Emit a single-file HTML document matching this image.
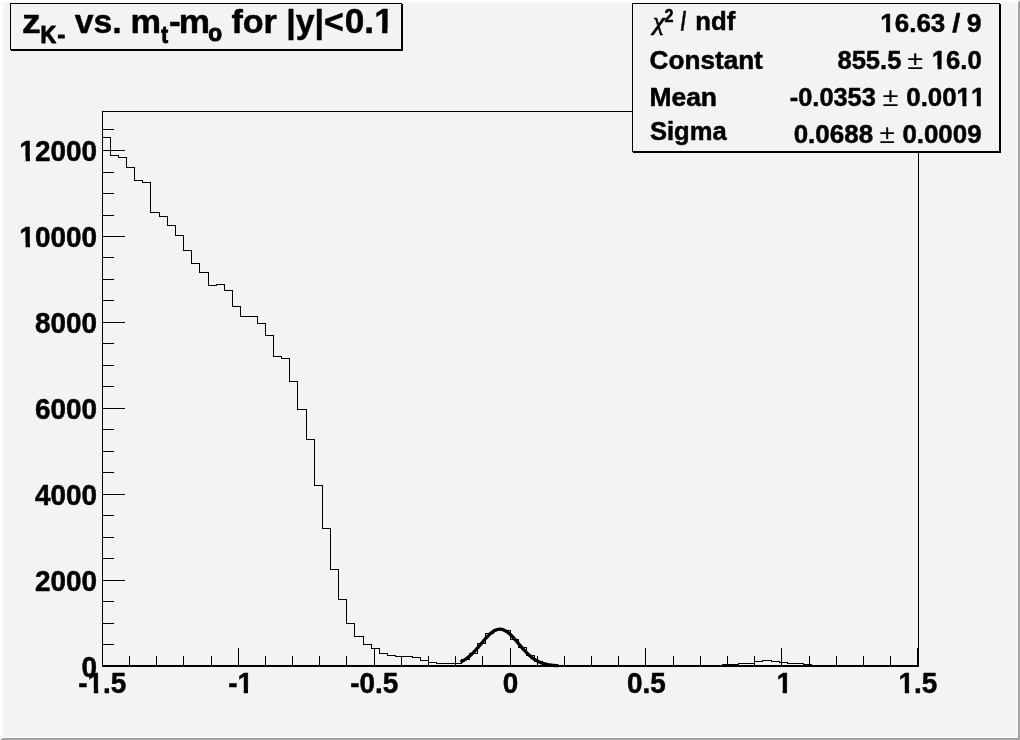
<!DOCTYPE html><html><head><meta charset="utf-8"><title>zK- vs. mt-mo</title>
<style>html,body{margin:0;padding:0;background:#f3f3f3;}svg{display:block;position:absolute;left:0;top:0}text{font-family:"Liberation Sans",Arial,Helvetica,sans-serif;font-weight:bold;fill:#000;font-kerning:none}</style></head><body>
<svg width="1020" height="740" viewBox="0 0 1020 740">
<rect x="0" y="0" width="1020" height="740" fill="#f3f3f3"/>
<g shape-rendering="crispEdges">
<rect x="0" y="0" width="1020" height="2" fill="#ffffff"/><rect x="0" y="0" width="2" height="740" fill="#ffffff"/>
<rect x="2" y="2" width="1" height="735" fill="#fafafa"/><rect x="3" y="2" width="2" height="735" fill="#f7f7f7"/><rect x="2" y="2" width="1015" height="1" fill="#f8f8f8"/>
<rect x="1017" y="2" width="1" height="736" fill="#ffffff"/><rect x="2" y="737" width="1016" height="1" fill="#ffffff"/>
<rect x="1018" y="2" width="1" height="738" fill="#a2a2a2"/><rect x="1019" y="1" width="1" height="739" fill="#a2a2a2"/><rect x="2" y="738" width="1018" height="1" fill="#a2a2a2"/><rect x="1" y="739" width="1019" height="1" fill="#a2a2a2"/>
<g fill="none" stroke="#000" stroke-width="1">
<rect x="102.5" y="111.5" width="816" height="555"/>
</g>
<rect x="102" y="665" width="817" height="2" fill="#000"/>
<g fill="#000"><rect x="102" y="648" width="1" height="18"/><rect x="129" y="656" width="1" height="10"/><rect x="156" y="656" width="1" height="10"/><rect x="183" y="656" width="1" height="10"/><rect x="211" y="656" width="1" height="10"/><rect x="238" y="648" width="1" height="18"/><rect x="265" y="656" width="1" height="10"/><rect x="292" y="656" width="1" height="10"/><rect x="319" y="656" width="1" height="10"/><rect x="346" y="656" width="1" height="10"/><rect x="374" y="648" width="1" height="18"/><rect x="401" y="656" width="1" height="10"/><rect x="428" y="656" width="1" height="10"/><rect x="455" y="656" width="1" height="10"/><rect x="482" y="656" width="1" height="10"/><rect x="510" y="648" width="1" height="18"/><rect x="537" y="656" width="1" height="10"/><rect x="564" y="656" width="1" height="10"/><rect x="591" y="656" width="1" height="10"/><rect x="618" y="656" width="1" height="10"/><rect x="645" y="648" width="1" height="18"/><rect x="673" y="656" width="1" height="10"/><rect x="700" y="656" width="1" height="10"/><rect x="727" y="656" width="1" height="10"/><rect x="754" y="656" width="1" height="10"/><rect x="781" y="648" width="1" height="18"/><rect x="809" y="656" width="1" height="10"/><rect x="836" y="656" width="1" height="10"/><rect x="863" y="656" width="1" height="10"/><rect x="890" y="656" width="1" height="10"/><rect x="917" y="648" width="1" height="18"/><rect x="102" y="666" width="23" height="1"/><rect x="102" y="644" width="12" height="1"/><rect x="102" y="623" width="12" height="1"/><rect x="102" y="601" width="12" height="1"/><rect x="102" y="580" width="23" height="1"/><rect x="102" y="558" width="12" height="1"/><rect x="102" y="537" width="12" height="1"/><rect x="102" y="515" width="12" height="1"/><rect x="102" y="494" width="23" height="1"/><rect x="102" y="472" width="12" height="1"/><rect x="102" y="451" width="12" height="1"/><rect x="102" y="429" width="12" height="1"/><rect x="102" y="408" width="23" height="1"/><rect x="102" y="386" width="12" height="1"/><rect x="102" y="365" width="12" height="1"/><rect x="102" y="343" width="12" height="1"/><rect x="102" y="322" width="23" height="1"/><rect x="102" y="300" width="12" height="1"/><rect x="102" y="279" width="12" height="1"/><rect x="102" y="257" width="12" height="1"/><rect x="102" y="236" width="23" height="1"/><rect x="102" y="215" width="12" height="1"/><rect x="102" y="193" width="12" height="1"/><rect x="102" y="172" width="12" height="1"/><rect x="102" y="150" width="23" height="1"/><rect x="102" y="129" width="12" height="1"/></g>
<path d="M102 137 L102 137 L110 137 L110 155 L118 155 L118 157 L126 157 L126 167 L134 167 L134 180 L142 180 L142 182 L150 182 L150 212 L159 212 L159 216 L167 216 L167 225 L175 225 L175 235 L183 235 L183 250 L191 250 L191 263 L199 263 L199 272 L208 272 L208 285 L216 285 L216 284 L224 284 L224 290 L232 290 L232 306 L240 306 L240 316 L248 316 L248 316 L257 316 L257 323 L265 323 L265 335 L273 335 L273 356 L281 356 L281 358 L289 358 L289 381 L297 381 L297 409 L306 409 L306 439 L314 439 L314 485 L322 485 L322 528 L330 528 L330 569 L338 569 L338 599 L346 599 L346 623 L354 623 L354 636 L363 636 L363 644 L371 644 L371 648 L379 648 L379 653 L387 653 L387 655 L395 655 L395 656 L403 656 L403 656 L412 656 L412 657 L420 657 L420 660 L428 660 L428 662 L436 662 L436 663 L444 663 L444 663 L452 663 L452 663 L461 663 L461 659 L469 659 L469 653 L477 653 L477 643 L485 643 L485 633 L493 633 L493 629 L501 629 L501 630 L510 630 L510 639 L518 639 L518 647 L526 647 L526 655 L534 655 L534 661 L542 661 L542 664 L550 664 L550 665 L558 665 L558 665 L567 665 L567 665 L575 665 L575 665 L583 665 L583 665 L591 665 L591 665 L599 665 L599 665 L607 665 L607 665 L616 665 L616 665 L624 665 L624 665 L632 665 L632 665 L640 665 L640 665 L648 665 L648 665 L656 665 L656 665 L665 665 L665 665 L673 665 L673 665 L681 665 L681 665 L689 665 L689 665 L697 665 L697 665 L705 665 L705 665 L714 665 L714 665 L722 665 L722 664 L730 664 L730 664 L738 664 L738 663 L746 663 L746 663 L754 663 L754 661 L762 661 L762 660 L771 660 L771 661 L779 661 L779 662 L787 662 L787 663 L795 663 L795 663 L803 663 L803 664 L811 664 L811 665 L820 665 L820 665 L828 665 L828 665 L836 665 L836 665 L844 665 L844 665 L852 665 L852 665 L860 665 L860 665 L869 665 L869 665 L877 665 L877 665 L885 665 L885 665 L893 665 L893 665 L901 665 L901 665 L909 665 L909 665 L918 665" fill="none" stroke="#000" stroke-width="1" transform="translate(0.5,0.5)"/>
</g>
<path d="M460.5 662.0 L461.5 661.5 L462.5 661.0 L463.5 660.5 L464.5 659.9 L465.4 659.3 L466.4 658.6 L467.4 657.9 L468.4 657.1 L469.4 656.3 L470.3 655.4 L471.3 654.5 L472.3 653.6 L473.3 652.6 L474.2 651.6 L475.2 650.6 L476.2 649.5 L477.2 648.4 L478.2 647.3 L479.1 646.1 L480.1 645.0 L481.1 643.8 L482.1 642.6 L483.1 641.5 L484.0 640.3 L485.0 639.2 L486.0 638.1 L487.0 637.0 L488.0 636.0 L488.9 635.0 L489.9 634.1 L490.9 633.2 L491.9 632.4 L492.9 631.7 L493.8 631.1 L494.8 630.5 L495.8 630.1 L496.8 629.7 L497.7 629.5 L498.7 629.3 L499.7 629.2 L500.7 629.2 L501.7 629.4 L502.6 629.6 L503.6 629.9 L504.6 630.4 L505.6 630.9 L506.6 631.5 L507.5 632.2 L508.5 632.9 L509.5 633.8 L510.5 634.6 L511.5 635.6 L512.4 636.6 L513.4 637.7 L514.4 638.8 L515.4 639.9 L516.4 641.0 L517.3 642.2 L518.3 643.3 L519.3 644.5 L520.3 645.7 L521.3 646.8 L522.2 648.0 L523.2 649.1 L524.2 650.2 L525.2 651.2 L526.1 652.2 L527.1 653.2 L528.1 654.2 L529.1 655.1 L530.1 656.0 L531.0 656.8 L532.0 657.6 L533.0 658.3 L534.0 659.0 L535.0 659.6 L535.9 660.2 L536.9 660.8 L537.9 661.3 L538.9 661.8 L539.9 662.2 L540.8 662.6 L541.8 663.0 L542.8 663.3 L543.8 663.6 L544.8 663.9 L545.7 664.2 L546.7 664.4 L547.7 664.6 L548.7 664.8 L549.6 664.9 L550.6 665.1 L551.6 665.2 L552.6 665.3 L553.6 665.4 L554.5 665.5 L555.5 665.6 L556.5 665.6 L557.5 665.7 L558.5 665.7" fill="none" stroke="#000" stroke-width="3.3" stroke-linejoin="round"/>
<text x="78.31" y="692.70" font-size="29.16"  stroke="#000" stroke-width="0.50" stroke-linejoin="round" textLength="48.08" lengthAdjust="spacingAndGlyphs">-1.5</text>
<text x="228.14" y="692.70" font-size="29.16"  stroke="#000" stroke-width="0.50" stroke-linejoin="round" textLength="24.81" lengthAdjust="spacingAndGlyphs">-1</text>
<text x="350.31" y="692.70" font-size="29.16"  stroke="#000" stroke-width="0.50" stroke-linejoin="round" textLength="48.08" lengthAdjust="spacingAndGlyphs">-0.5</text>
<text x="502.76" y="692.70" font-size="29.16"  stroke="#000" stroke-width="0.50" stroke-linejoin="round" textLength="15.52" lengthAdjust="spacingAndGlyphs">0</text>
<text x="626.94" y="692.70" font-size="29.16"  stroke="#000" stroke-width="0.50" stroke-linejoin="round" textLength="38.78" lengthAdjust="spacingAndGlyphs">0.5</text>
<text x="776.38" y="692.70" font-size="29.16"  stroke="#000" stroke-width="0.50" stroke-linejoin="round" textLength="15.52" lengthAdjust="spacingAndGlyphs">1</text>
<text x="898.54" y="692.70" font-size="29.16"  stroke="#000" stroke-width="0.50" stroke-linejoin="round" textLength="38.78" lengthAdjust="spacingAndGlyphs">1.5</text>
<text x="81.43" y="676.60" font-size="29.16"  stroke="#000" stroke-width="0.50" stroke-linejoin="round" textLength="15.52" lengthAdjust="spacingAndGlyphs">0</text>
<text x="34.88" y="590.60" font-size="29.16"  stroke="#000" stroke-width="0.50" stroke-linejoin="round" textLength="62.07" lengthAdjust="spacingAndGlyphs">2000</text>
<text x="34.88" y="504.60" font-size="29.16"  stroke="#000" stroke-width="0.50" stroke-linejoin="round" textLength="62.07" lengthAdjust="spacingAndGlyphs">4000</text>
<text x="34.88" y="418.60" font-size="29.16"  stroke="#000" stroke-width="0.50" stroke-linejoin="round" textLength="62.07" lengthAdjust="spacingAndGlyphs">6000</text>
<text x="34.88" y="332.60" font-size="29.16"  stroke="#000" stroke-width="0.50" stroke-linejoin="round" textLength="62.07" lengthAdjust="spacingAndGlyphs">8000</text>
<text x="19.36" y="246.60" font-size="29.16"  stroke="#000" stroke-width="0.50" stroke-linejoin="round" textLength="77.58" lengthAdjust="spacingAndGlyphs">10000</text>
<text x="19.36" y="160.60" font-size="29.16"  stroke="#000" stroke-width="0.50" stroke-linejoin="round" textLength="77.58" lengthAdjust="spacingAndGlyphs">12000</text>
<g shape-rendering="crispEdges">
<rect x="10.5" y="3.5" width="391" height="46" fill="#f3f3f3" stroke="#000" stroke-width="1"/>
<rect x="402" y="4" width="1" height="47" fill="#000"/><rect x="11" y="50" width="392" height="1" fill="#000"/>
</g>
<text x="22.00" y="32.80" font-size="34.00"  stroke="#000" stroke-width="0.50" stroke-linejoin="round" textLength="18.76" lengthAdjust="spacingAndGlyphs">z</text>
<text x="40.45" y="42.70" font-size="23.50"  stroke="#000" stroke-width="1.10" stroke-linejoin="round" textLength="15.65" lengthAdjust="spacingAndGlyphs">K</text>
<text x="57.51" y="42.70" font-size="23.50"  stroke="#000" stroke-width="1.10" stroke-linejoin="round" textLength="7.61" lengthAdjust="spacingAndGlyphs">-</text>
<text x="74.87" y="32.80" font-size="34.00"  stroke="#000" stroke-width="0.50" stroke-linejoin="round" textLength="46.85" lengthAdjust="spacingAndGlyphs">vs.</text>
<text x="130.54" y="32.80" font-size="34.00"  stroke="#000" stroke-width="0.50" stroke-linejoin="round" textLength="30.49" lengthAdjust="spacingAndGlyphs">m</text>
<text x="161.25" y="43.10" font-size="23.50"  stroke="#000" stroke-width="1.10" stroke-linejoin="round" textLength="6.80" lengthAdjust="spacingAndGlyphs">t</text>
<text x="168.93" y="32.80" font-size="34.00"  stroke="#000" stroke-width="0.50" stroke-linejoin="round" textLength="11.67" lengthAdjust="spacingAndGlyphs">-</text>
<text x="178.78" y="32.80" font-size="34.00"  stroke="#000" stroke-width="0.50" stroke-linejoin="round" textLength="31.30" lengthAdjust="spacingAndGlyphs">m</text>
<text x="208.31" y="40.60" font-size="23.50"  stroke="#000" stroke-width="1.10" stroke-linejoin="round" textLength="13.87" lengthAdjust="spacingAndGlyphs">o</text>
<text x="231.42" y="32.80" font-size="34.00"  stroke="#000" stroke-width="0.50" stroke-linejoin="round" textLength="45.50" lengthAdjust="spacingAndGlyphs">for</text>
<text x="286.23" y="32.80" font-size="34.00"  stroke="#000" stroke-width="0.50" stroke-linejoin="round" textLength="57.44" lengthAdjust="spacingAndGlyphs">|y|&lt;</text>
<text x="344.81" y="32.80" font-size="35.20"  stroke="#000" stroke-width="0.50" stroke-linejoin="round" textLength="48.92" lengthAdjust="spacingAndGlyphs">0.1</text>
<g shape-rendering="crispEdges">
<rect x="632.5" y="3.5" width="367" height="148" fill="#f3f3f3" stroke="#000" stroke-width="1"/>
<rect x="1000" y="4" width="1" height="149" fill="#000"/><rect x="633" y="152" width="368" height="1" fill="#000"/>
</g>
<text x="652.93" y="30.00" font-size="25.50" style="font-family:'Liberation Serif',serif;font-style:italic;font-weight:normal" stroke="#000" stroke-width="0.70" stroke-linejoin="round" textLength="11.72" lengthAdjust="spacingAndGlyphs">χ</text>
<text x="664.44" y="22.00" font-size="17.50"  stroke="#000" stroke-width="0.50" stroke-linejoin="round" textLength="9.01" lengthAdjust="spacingAndGlyphs">2</text>
<text x="680.81" y="29.90" font-size="25.50"  stroke="#000" stroke-width="0.50" stroke-linejoin="round" textLength="5.38" lengthAdjust="spacingAndGlyphs">/</text>
<text x="695.31" y="29.90" font-size="25.50"  stroke="#000" stroke-width="0.50" stroke-linejoin="round" textLength="39.94" lengthAdjust="spacingAndGlyphs">ndf</text>
<text x="649.63" y="68.90" font-size="25.50"  stroke="#000" stroke-width="0.50" stroke-linejoin="round" textLength="113.19" lengthAdjust="spacingAndGlyphs">Constant</text>
<text x="649.43" y="105.60" font-size="25.50"  stroke="#000" stroke-width="0.50" stroke-linejoin="round" textLength="67.61" lengthAdjust="spacingAndGlyphs">Mean</text>
<text x="649.96" y="139.70" font-size="25.50"  stroke="#000" stroke-width="0.50" stroke-linejoin="round" textLength="76.67" lengthAdjust="spacingAndGlyphs">Sigma</text>
<text x="880.33" y="31.80" font-size="26.50"  stroke="#000" stroke-width="0.50" stroke-linejoin="round" textLength="64.91" lengthAdjust="spacingAndGlyphs">16.63</text>
<text x="952.32" y="31.80" font-size="25.50"  stroke="#000" stroke-width="0.50" stroke-linejoin="round" textLength="8.07" lengthAdjust="spacingAndGlyphs">/</text>
<text x="966.78" y="31.80" font-size="26.50"  stroke="#000" stroke-width="0.50" stroke-linejoin="round" textLength="14.81" lengthAdjust="spacingAndGlyphs">9</text>
<text x="837.39" y="68.90" font-size="26.50"  stroke="#000" stroke-width="0.50" stroke-linejoin="round" textLength="64.13" lengthAdjust="spacingAndGlyphs">855.5</text>
<text x="907.38" y="68.90" font-size="25.50" style="font-weight:normal" textLength="15.93" lengthAdjust="spacingAndGlyphs">±</text>
<text x="931.85" y="68.90" font-size="26.50"  stroke="#000" stroke-width="0.50" stroke-linejoin="round" textLength="49.80" lengthAdjust="spacingAndGlyphs">16.0</text>
<text x="789.81" y="105.70" font-size="26.50"  stroke="#000" stroke-width="0.50" stroke-linejoin="round" textLength="86.01" lengthAdjust="spacingAndGlyphs">-0.0353</text>
<text x="882.58" y="105.70" font-size="25.50" style="font-weight:normal" textLength="15.93" lengthAdjust="spacingAndGlyphs">±</text>
<text x="906.28" y="105.70" font-size="26.50"  stroke="#000" stroke-width="0.50" stroke-linejoin="round" textLength="79.12" lengthAdjust="spacingAndGlyphs">0.0011</text>
<text x="793.67" y="142.60" font-size="26.50"  stroke="#000" stroke-width="0.50" stroke-linejoin="round" textLength="79.43" lengthAdjust="spacingAndGlyphs">0.0688</text>
<text x="879.41" y="142.60" font-size="25.50" style="font-weight:normal" textLength="15.36" lengthAdjust="spacingAndGlyphs">±</text>
<text x="902.38" y="142.60" font-size="26.50"  stroke="#000" stroke-width="0.50" stroke-linejoin="round" textLength="79.18" lengthAdjust="spacingAndGlyphs">0.0009</text>
<g fill="#f3f3f3"><rect x="87.90" y="688.97" width="5.95" height="5.68"/><rect x="98.19" y="688.97" width="5.60" height="5.68"/><rect x="237.74" y="688.97" width="5.95" height="5.68"/><rect x="248.02" y="688.97" width="5.60" height="5.68"/><rect x="776.68" y="688.97" width="5.95" height="5.68"/><rect x="786.97" y="688.97" width="5.60" height="5.68"/><rect x="898.85" y="688.97" width="5.95" height="5.68"/><rect x="909.13" y="688.97" width="5.60" height="5.68"/><rect x="19.67" y="242.87" width="5.95" height="5.68"/><rect x="29.95" y="242.87" width="5.60" height="5.68"/><rect x="19.67" y="156.87" width="5.95" height="5.68"/><rect x="29.95" y="156.87" width="5.60" height="5.68"/><rect x="374.92" y="28.46" width="7.20" height="6.29"/><rect x="387.45" y="28.46" width="6.75" height="6.29"/><rect x="880.51" y="28.35" width="5.62" height="5.40"/><rect x="890.19" y="28.35" width="5.29" height="5.40"/><rect x="932.01" y="65.45" width="5.56" height="5.40"/><rect x="941.58" y="65.45" width="5.24" height="5.40"/><rect x="956.81" y="102.25" width="5.61" height="5.40"/><rect x="966.46" y="102.25" width="5.28" height="5.40"/><rect x="971.19" y="102.25" width="5.61" height="5.40"/><rect x="980.85" y="102.25" width="5.28" height="5.40"/></g>
</svg></body></html>
